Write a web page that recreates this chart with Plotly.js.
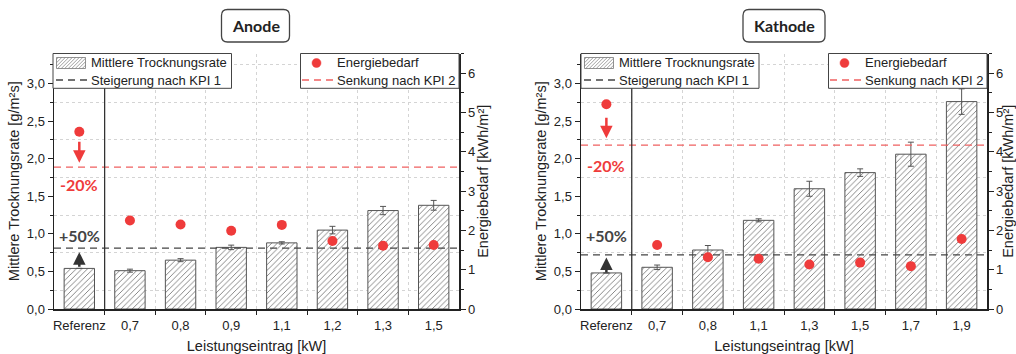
<!DOCTYPE html>
<html>
<head>
<meta charset="utf-8">
<script src="https://cdn.plot.ly/plotly-3.0.1.min.js"></script>
<style>
  html, body { margin: 0; padding: 0; background: #fff; }
  #chart { width: 1016px; height: 354px; }
</style>
</head>
<body>
<div id="chart"></div>
<script>
// Anode: drying rate (bars, left axis) and energy demand (dots, right axis)
const categoriesAnode = ['Referenz', '0,7', '0,8', '0,9', '1,1', '1,2', '1,3', '1,5'];
const rateAnode       = [0.54, 0.51, 0.65, 0.82, 0.88, 1.05, 1.31, 1.38];
const rateErrAnode    = [0, 0.02, 0.02, 0.03, 0.015, 0.05, 0.055, 0.065];
const energyAnode     = [4.51, 2.25, 2.15, 1.99, 2.14, 1.73, 1.61, 1.63];

// Kathode
const categoriesKathode = ['Referenz', '0,7', '0,8', '1,1', '1,3', '1,5', '1,7', '1,9'];
const rateKathode       = [0.48, 0.555, 0.785, 1.18, 1.60, 1.815, 2.06, 2.76];
const rateErrKathode    = [0, 0.03, 0.06, 0.02, 0.10, 0.05, 0.16, 0.17];
const energyKathode     = [5.21, 1.63, 1.315, 1.28, 1.13, 1.18, 1.09, 1.78];

// KPI targets relative to the reference
const kpi1Factor = 1.5;   // +50 % drying rate
const kpi2Factor = 0.8;   // -20 % energy demand

const seriesNames = ['Mittlere Trocknungsrate', 'Steigerung nach KPI 1', 'Energiebedarf', 'Senkung nach KPI 2'];

const FONT = 'Liberation Sans, Arial, sans-serif';
const BOLD = 'Lato, Liberation Sans, sans-serif';
const RED = '#ef3b3b';
const RED_LINE = '#f06060';
const GREY_LINE = '#444';
const DASH = '7px,5px';
const W = 1016, H = 354;

const idx = arr => arr.map((_, i) => i);
const PX = v => v / W;          // pixel -> paper x
const PY = v => 1 - v / H;      // pixel -> paper y

function panel(cats, rate, err, energy, xa, ya, ya2) {
  const xs = idx(cats);
  const kpi1 = rate[0] * kpi1Factor;
  const kpi2 = energy[0] * kpi2Factor;
  const edge = [-0.5, cats.length - 0.5];
  return [
    {
      type: 'bar', x: xs, y: rate, xaxis: xa, yaxis: ya, width: 0.6, name: seriesNames[0],
      marker: {
        color: '#ffffff',
        line: { color: '#555', width: 1 },
        pattern: { shape: '/', fgcolor: '#777', bgcolor: '#ffffff', size: 4, solidity: 0.22 }
      },
      error_y: { type: 'data', array: err, visible: true, color: '#555', thickness: 1, width: 3 },
      hoverinfo: 'skip'
    },
    {
      type: 'scatter', mode: 'lines', x: edge, y: [kpi1, kpi1], xaxis: xa, yaxis: ya, name: seriesNames[1],
      line: { color: GREY_LINE, width: 1.3, dash: DASH }, hoverinfo: 'skip'
    },
    {
      type: 'scatter', mode: 'lines', x: edge, y: [kpi2, kpi2], xaxis: xa, yaxis: ya2, name: seriesNames[3],
      line: { color: RED_LINE, width: 1.3, dash: DASH }, hoverinfo: 'skip'
    },
    {
      type: 'scatter', mode: 'markers', x: xs, y: energy, xaxis: xa, yaxis: ya2, name: seriesNames[2],
      marker: { color: RED, size: 10 }, hoverinfo: 'skip'
    }
  ];
}

const data = [
  ...panel(categoriesAnode, rateAnode, rateErrAnode, energyAnode, 'x', 'y', 'y2'),
  ...panel(categoriesKathode, rateKathode, rateErrKathode, energyKathode, 'x2', 'y3', 'y4')
];

const yDomain = [PY(309), PY(53.5)];

function xAxis(cats, domain, anchor) {
  const bounds = [];
  for (let i = 0; i < cats.length - 1; i++) bounds.push(i + 0.5);
  return {
    domain: domain, anchor: anchor, range: [-0.5, cats.length - 0.5],
    tickmode: 'array', tickvals: idx(cats), ticktext: cats, ticks: '',
    ticklabelstandoff: 4,
    showgrid: false, zeroline: false,
    showline: true, linecolor: '#222', linewidth: 1.5,
    tickfont: { family: FONT, size: 13, color: '#222' },
    minor: { tickmode: 'array', tickvals: bounds, ticks: 'outside', ticklen: 4, tickcolor: '#222',
             showgrid: true, gridcolor: '#d4d4d4', griddash: 'dot', gridwidth: 1 },
    title: { text: 'Leistungseintrag [kW]', font: { family: FONT, size: 14.5, color: '#222' }, standoff: 12 },
    fixedrange: true
  };
}

function yLeft(anchor) {
  return {
    domain: yDomain, anchor: anchor, range: [0, 3.4],
    tickmode: 'linear', tick0: 0, dtick: 0.5, tickformat: '.1f',
    ticks: 'outside', ticklen: 5, tickcolor: '#222',
    showgrid: false, zeroline: false,
    showline: true, linecolor: '#222', linewidth: 1.5,
    tickfont: { family: FONT, size: 13, color: '#222' },
    minor: { dtick: 0.25, ticks: 'outside', ticklen: 3, tickcolor: '#222',
             showgrid: true, gridcolor: '#d4d4d4', griddash: 'dot', gridwidth: 1 },
    title: { text: 'Mittlere Trocknungsrate [g/m²s]', font: { family: FONT, size: 14.5, color: '#222' }, standoff: 3 },
    fixedrange: true
  };
}

function yRight(anchor, overlay) {
  return {
    domain: yDomain, anchor: anchor, overlaying: overlay, side: 'right', range: [0, 6.5],
    tickmode: 'linear', tick0: 0, dtick: 1,
    ticks: 'outside', ticklen: 5, tickcolor: '#222',
    showgrid: false, zeroline: false,
    showline: true, linecolor: '#222', linewidth: 1.5,
    tickfont: { family: FONT, size: 13, color: '#222' },
    minor: { dtick: 0.5, ticks: 'outside', ticklen: 3, tickcolor: '#222', showgrid: false },
    title: { text: 'Energiebedarf [kWh/m²]', font: { family: FONT, size: 14.5, color: '#222' }, standoff: 2 },
    fixedrange: true
  };
}

// rounded frame around a panel heading (pixel box -> paper path)
function roundBox(x0, y0, x1, y1, r) {
  const X = v => PX(v).toFixed(5);
  const Y = v => PY(v).toFixed(5);
  return {
    type: 'path', xref: 'paper', yref: 'paper', layer: 'above',
    line: { color: '#444', width: 1.3 }, fillcolor: '#ffffff',
    path: `M ${X(x0 + r)},${Y(y0)} L ${X(x1 - r)},${Y(y0)} Q ${X(x1)},${Y(y0)} ${X(x1)},${Y(y0 + r)} ` +
          `L ${X(x1)},${Y(y1 - r)} Q ${X(x1)},${Y(y1)} ${X(x1 - r)},${Y(y1)} ` +
          `L ${X(x0 + r)},${Y(y1)} Q ${X(x0)},${Y(y1)} ${X(x0)},${Y(y1 - r)} ` +
          `L ${X(x0)},${Y(y0 + r)} Q ${X(x0)},${Y(y0)} ${X(x0 + r)},${Y(y0)} Z`
  };
}

function rectPx(x0, y0, x1, y1, color, width, fill) {
  return { type: 'rect', xref: 'paper', yref: 'paper', layer: 'above',
           x0: PX(x0), x1: PX(x1), y0: PY(y1), y1: PY(y0),
           line: { color: color, width: width }, fillcolor: fill };
}

function linePx(x0, y0, x1, y1, color, width, dash) {
  return { type: 'line', xref: 'paper', yref: 'paper', layer: 'above',
           x0: PX(x0), x1: PX(x1), y0: PY(y0), y1: PY(y1),
           line: { color: color, width: width, dash: dash || 'solid' } };
}

// hatched key swatch: diagonal "/" strokes clipped to the box
function hatchPx(x0, y0, x1, y1, step) {
  const h = y1 - y0;
  let p = '';
  for (let t = -h + step / 2; t < x1 - x0; t += step) {
    let ax = x0 + t, ay = y1, bx = x0 + t + h, by = y0;
    if (ax < x0) { ay = y1 - (x0 - ax); ax = x0; }
    if (bx > x1) { by = y0 + (bx - x1); bx = x1; }
    p += `M ${PX(ax).toFixed(5)},${PY(ay).toFixed(5)} L ${PX(bx).toFixed(5)},${PY(by).toFixed(5)} `;
  }
  return { type: 'path', xref: 'paper', yref: 'paper', layer: 'above', path: p,
           line: { color: '#888', width: 0.8 } };
}

function keyText(x, y, text) {
  return { xref: 'paper', yref: 'paper', x: PX(x), y: PY(y), xanchor: 'left', yanchor: 'middle',
           text: text, showarrow: false, font: { family: FONT, size: 13, color: '#222' } };
}

// two framed keys per panel: drying rate + KPI 1, energy + KPI 2
function keyShapes(a0, a1, b0, b1) {
  const top = 53.5, bot = 88.3, r1 = 63, r2 = 80;
  return [
    rectPx(a0, top, a1, bot, '#444', 1, '#ffffff'),
    rectPx(b0, top, b1, bot, '#444', 1, '#ffffff'),
    hatchPx(a0 + 3.5, 57.5, a0 + 32.5, 68.5, 3.5),
    rectPx(a0 + 3.5, 57.5, a0 + 32.5, 68.5, '#777', 0.8, 'rgba(0,0,0,0)'),
    linePx(a0 + 3, r2, a0 + 34, r2, GREY_LINE, 1.3, DASH),
    { type: 'circle', xref: 'paper', yref: 'paper', layer: 'above',
      x0: PX(b0 + 11.5), x1: PX(b0 + 20.5), y0: PY(r1 + 4.5), y1: PY(r1 - 4.5),
      fillcolor: RED, line: { color: RED, width: 0.5 } },
    linePx(b0 + 1.5, r2, b0 + 34.5, r2, RED_LINE, 1.3, DASH)
  ];
}

function keyNotes(a0, b0) {
  return [
    keyText(a0 + 35.5, 63, seriesNames[0]),
    keyText(a0 + 35.5, 80.5, seriesNames[1]),
    keyText(b0 + 34.5, 63, seriesNames[2]),
    keyText(b0 + 34.5, 80.5, seriesNames[3])
  ];
}

function separator(xa) {
  return { type: 'line', xref: xa, yref: 'paper', x0: 0.5, x1: 0.5, y0: yDomain[0], y1: yDomain[1],
           line: { color: '#333', width: 1.3 }, layer: 'above' };
}

function kpiNotes(xa, ya, ya2, rate, energy, s) {
  const kpi1 = rate[0] * kpi1Factor;
  const kpi2 = energy[0] * kpi2Factor;
  return [
    { xref: xa, yref: ya2, x: 0, y: kpi2, text: '', showarrow: true, ax: 0, ay: s.redTail,
      arrowhead: 2, arrowsize: 1, arrowwidth: 2.5, arrowcolor: RED, standoff: s.redStand },
    { xref: xa, yref: ya2, x: 0, y: kpi2, yshift: s.redText, text: '<b>-20%</b>', showarrow: false,
      font: { family: BOLD, size: 16, color: RED } },
    { xref: xa, yref: ya, x: 0, y: kpi1, text: '', showarrow: true, ax: 0, ay: s.blackTail,
      arrowhead: 2, arrowsize: 1, arrowwidth: 2.5, arrowcolor: '#333', standoff: s.blackStand },
    { xref: xa, yref: ya, x: 0, y: kpi1, yshift: s.blackText, text: '<b>+50%</b>', showarrow: false,
      font: { family: BOLD, size: 16, color: '#444' } }
  ];
}

function heading(xc, text) {
  return { xref: 'paper', yref: 'paper', x: PX(xc), y: PY(26), xanchor: 'center', yanchor: 'middle',
           text: '<b>' + text + '</b>', showarrow: false, font: { family: BOLD, size: 16, color: '#222' } };
}

const layout = {
  width: W, height: H,
  margin: { l: 0, r: 0, t: 0, b: 0, autoexpand: false },
  paper_bgcolor: '#ffffff', plot_bgcolor: '#ffffff',
  separators: ', ',
  showlegend: false,
  font: { family: FONT, size: 13, color: '#222' },
  xaxis: xAxis(categoriesAnode, [PX(54), PX(459)], 'y'),
  yaxis: yLeft('x'),
  yaxis2: yRight('x', 'y'),
  xaxis2: xAxis(categoriesKathode, [PX(581), PX(987)], 'y3'),
  yaxis3: yLeft('x2'),
  yaxis4: yRight('x2', 'y3'),
  shapes: [
    separator('x'), separator('x2'),
    ...keyShapes(53, 231.5, 300.5, 459),
    ...keyShapes(581, 759, 828.5, 987),
    roundBox(221.5, 9.5, 289.5, 42, 6),
    roundBox(743, 9.5, 825, 42, 6)
  ],
  annotations: [
    heading(255.5, 'Anode'),
    heading(784, 'Kathode'),
    ...keyNotes(53, 300.5),
    ...keyNotes(581, 828.5),
    ...kpiNotes('x', 'y', 'y2', rateAnode, energyAnode,
      { redTail: -27, redStand: 4.5, redText: -17, blackTail: 20, blackStand: 4, blackText: 13 }),
    ...kpiNotes('x2', 'y3', 'y4', rateKathode, energyKathode,
      { redTail: -29, redStand: 7, redText: -20, blackTail: 19, blackStand: 2.5, blackText: 19 })
  ]
};

Plotly.newPlot('chart', data, layout, { staticPlot: true, displayModeBar: false });
</script>
</body>
</html>
